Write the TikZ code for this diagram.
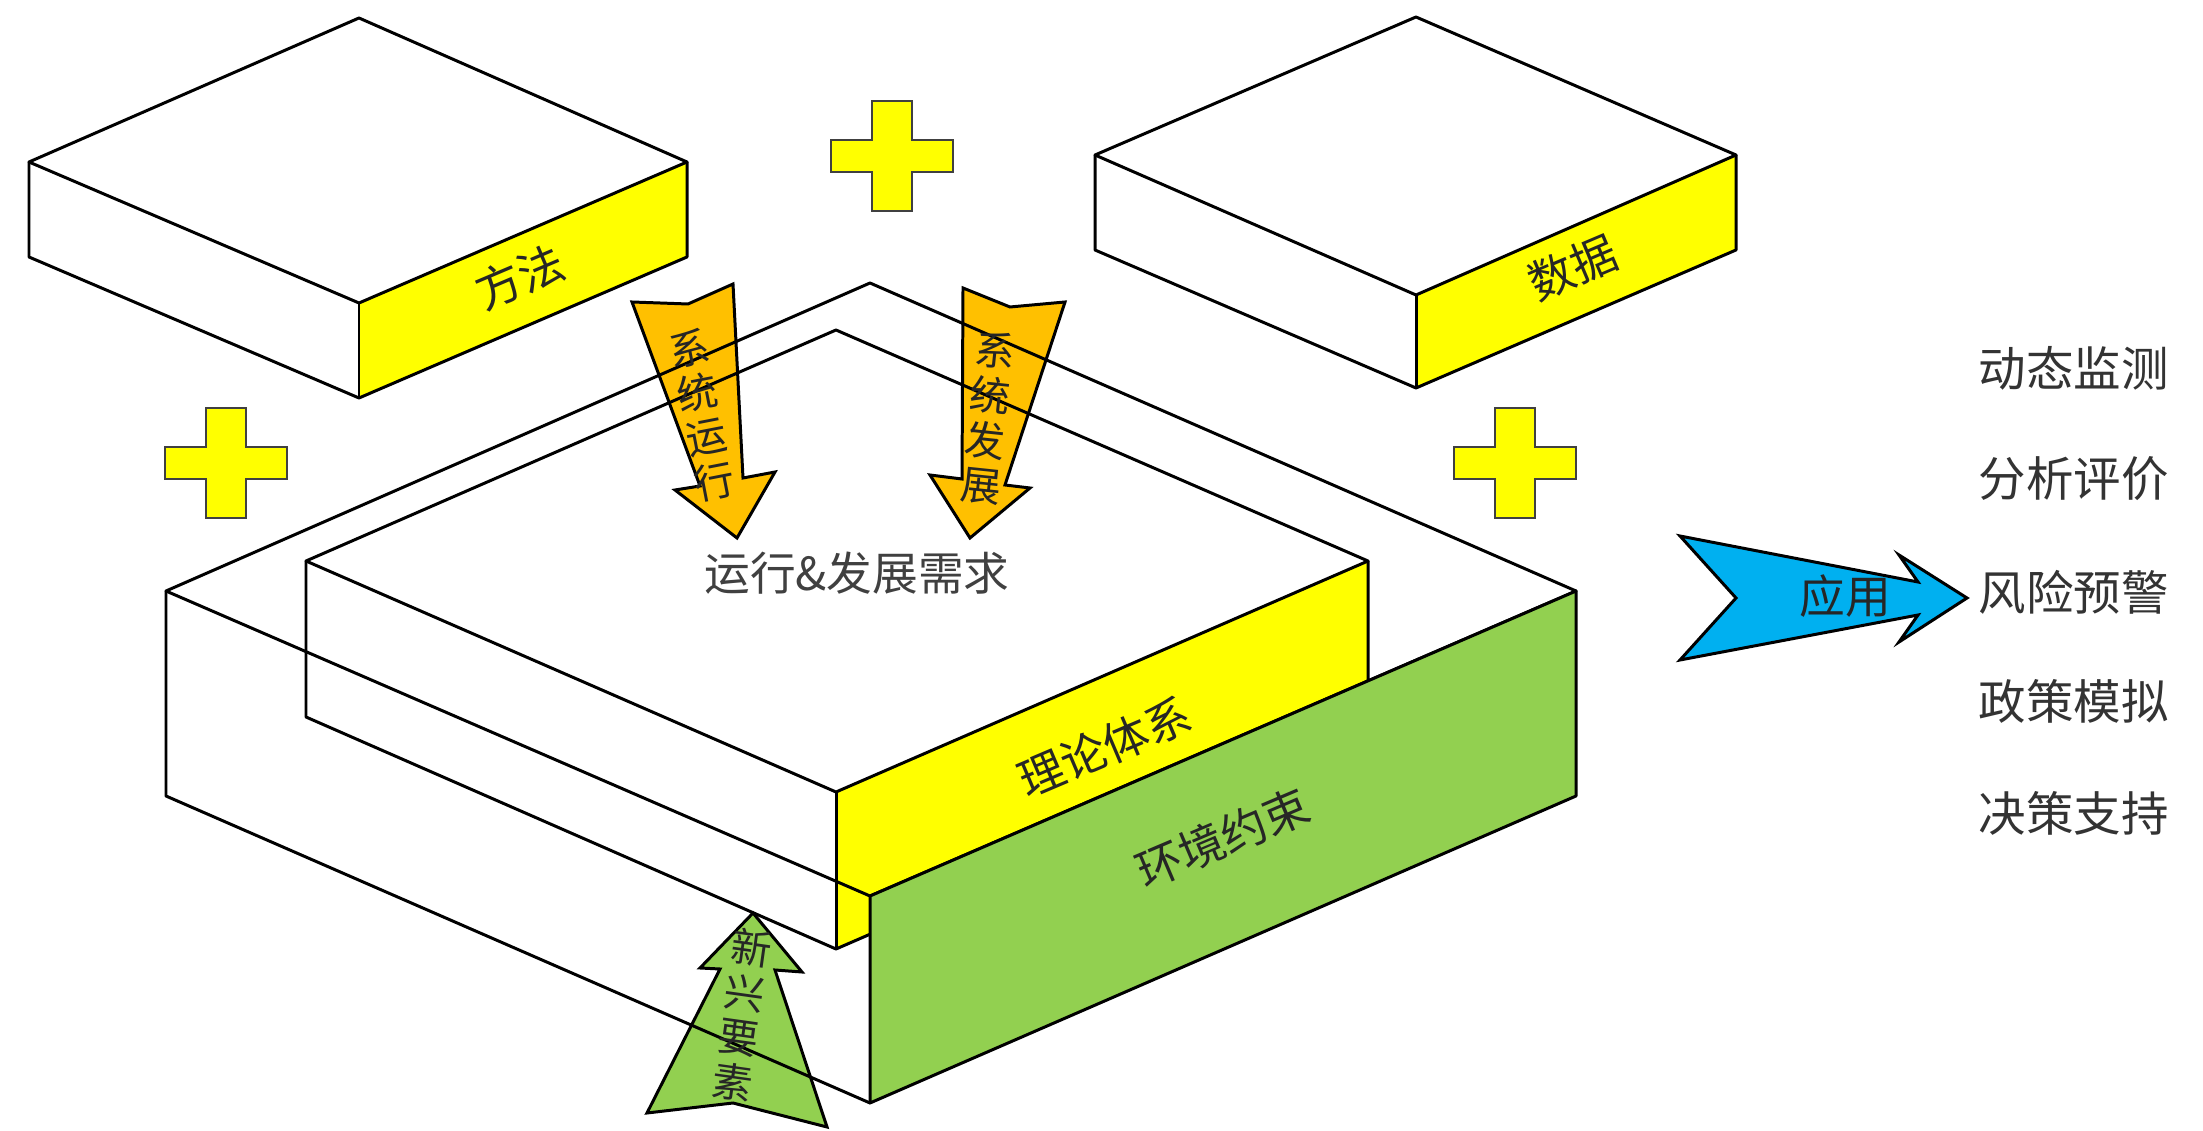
\documentclass[tikz,border=0pt]{standalone}
\usepackage{fontspec}
\newfontfamily\cjk{Noto Sans CJK SC}
\definecolor{cyel}{HTML}{FFFF00}
\definecolor{corg}{HTML}{FFC000}
\definecolor{cgrn}{HTML}{92D050}
\definecolor{cblu}{HTML}{00B0F0}
\begin{document}
\begin{tikzpicture}[x=0.01cm,y=-0.01cm,
  edge/.style={line width=0.85pt, line join=round, draw=black},
  arr/.style={line width=0.85pt, line join=miter, draw=black},
  lbl/.style={font=\cjk\fontsize{13pt}{14pt}\selectfont, inner sep=0pt, text=black!85},
  atext/.style={font=\cjk\fontsize{11.5pt}{12.8pt}\selectfont, inner sep=0pt, align=center, text=black!85},
  listtext/.style={font=\cjk\fontsize{13.5pt}{14pt}\selectfont, inner sep=0pt, anchor=west, text=black!80},
  pluspic/.pic={\draw[fill=cyel, line width=0.8pt, draw=black!75]
    (-20,-55) -- (20,-55) -- (20,-16) -- (61,-16) -- (61,16) -- (20,16) -- (20,55)
    -- (-20,55) -- (-20,16) -- (-61,16) -- (-61,-16) -- (-20,-16) -- cycle;}]
\useasboundingbox (0,0) rectangle (2203,1131);

% ---------- arrows (under the wireframe lines) ----------
\filldraw[arr, fill=corg] (632,302) -- (688,304) -- (733,284) -- (743,478) -- (775,472)
  -- (737,538) -- (675,490) -- (700,486) -- cycle;
\filldraw[arr, fill=corg] (963,288) -- (1010,307) -- (1065,302) -- (1005,485) -- (1030,488)
  -- (970,538) -- (930,475) -- (962,479) -- cycle;
\filldraw[arr, fill=cgrn] (753,913) -- (802,972) -- (775,970) -- (827,1127) -- (733,1103)
  -- (647,1113) -- (720,969) -- (700,968) -- cycle;
\filldraw[arr, fill=cblu] (1680,536) -- (1918,582) -- (1899,555) -- (1967,598) -- (1899,642)
  -- (1918,615) -- (1680,660) -- (1736,598) -- cycle;

% ---------- box 方法 ----------
\fill[cyel] (359,303) -- (687,162) -- (687,257) -- (359,398) -- cycle;
\draw[edge] (29,162) -- (359,18) -- (687,162) -- (359,303) -- cycle;
\draw[edge] (29,162) -- (29,257) -- (359,398) -- (687,257) -- (687,162);
\draw[edge] (359,303) -- (359,398);

% ---------- box 数据 ----------
\fill[cyel] (1416,295) -- (1736,155) -- (1736,250) -- (1416,388) -- cycle;
\draw[edge] (1095,155) -- (1416,17) -- (1736,155) -- (1416,295) -- cycle;
\draw[edge] (1095,155) -- (1095,250) -- (1416,388) -- (1736,250) -- (1736,155);
\draw[edge] (1416,295) -- (1416,388);

% ---------- inner box 理论体系 ----------
\fill[cyel] (836,792) -- (1368,561) -- (1368,718) -- (836,949) -- cycle;
\draw[edge] (306,561) -- (836,330) -- (1368,561) -- (836,792) -- cycle;
\draw[edge] (306,561) -- (306,717) -- (836,949) -- (1368,718) -- (1368,561);
\draw[edge] (836,792) -- (836,949);

% ---------- outer box 环境约束 ----------
\draw[edge] (166,591) -- (870,283) -- (1576,591) -- (870,896) -- cycle;
\draw[edge] (166,591) -- (166,796) -- (870,1103);
\filldraw[edge, fill=cgrn] (870,896) -- (1576,591) -- (1576,796) -- (870,1103) -- cycle;

% ---------- plus signs ----------
\pic (plustop) at (892,156) {pluspic};
\pic (plusleft) at (226,463) {pluspic};
\pic (plusright) at (1515,463) {pluspic};

% ---------- labels ----------
\node[lbl, rotate=23] (ff) at (520,277) {方法};
\node[lbl, rotate=23] (sj) at (1573,268) {数据};
\node[lbl, rotate=23] (ll) at (1105,747) {理论体系};
\node[lbl, rotate=23] (hj) at (1223,838) {环境约束};
\node[lbl, text=black!75] (xq) at (857,573) {运行\&发展需求};
\node[atext, rotate=11] (a1) at (702,415) {系\\统\\运\\行};
\node[atext, rotate=-6] (a2) at (988,418) {系\\统\\发\\展};
\node[atext, rotate=-8] (a3) at (742,1015) {新\\兴\\要\\素};
\node[lbl] (yy) at (1845,596) {应用};

\node[listtext] (l1) at (1978,368) {动态监测};
\node[listtext] (l2) at (1978,479) {分析评价};
\node[listtext] (l3) at (1978,592) {风险预警};
\node[listtext] (l4) at (1978,701) {政策模拟};
\node[listtext] (l5) at (1978,813) {决策支持};
\end{tikzpicture}
\end{document}
